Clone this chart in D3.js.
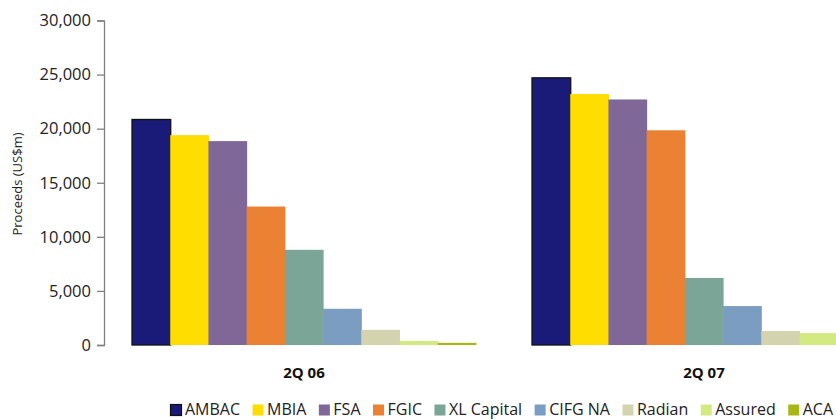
<!DOCTYPE html>
<html>
<head>
<meta charset="utf-8">
<script src="https://cdn.jsdelivr.net/npm/d3@7"></script>
<style>
  body { margin: 0; background: #fff; }
  svg { display: block; font-family: "Open Sans", sans-serif; }
</style>
</head>
<body>
<svg id="chart" width="836" height="420"></svg>
<script>
const quarters = ["2Q 06", "2Q 07"];
const insurers = ["AMBAC", "MBIA", "FSA", "FGIC", "XL Capital", "CIFG NA", "Radian", "Assured", "ACA"];
const colours = ["#1a1a78", "#ffdd00", "#7f6797", "#ea8133", "#7ba596", "#7b9dc1", "#d3d3b0", "#d3e981", "#a9b716"];
const proceeds2Q06 = [20850, 19400, 18850, 12800, 8800, 3350, 1400, 380, 200];
const proceeds2Q07 = [24700, 23200, 22700, 19850, 6200, 3600, 1300, 1100, 900];
const yTicks = [0, 5000, 10000, 15000, 20000, 25000, 30000];

const svg = d3.select("#chart");
const rows = quarters.map((q, i) => ({
    quarter: q,
    values: insurers.map((name, j) => ({ name, value: [proceeds2Q06, proceeds2Q07][i][j] }))
}));

const y = d3.scaleLinear().domain([0, 30000]).range([345, 20.5]);
const x0 = d3.scaleBand().domain(quarters).range([104, 904]).paddingInner(0.14).paddingOuter(0.07);
const x1 = d3.scaleBand().domain(insurers).range([0, x0.bandwidth()]);
const colour = d3.scaleOrdinal().domain(insurers).range(colours);

// y axis
const yAxis = svg.append("g")
    .attr("transform", "translate(104,0)")
    .call(d3.axisLeft(y).tickValues(yTicks).tickSize(7).tickPadding(6).tickFormat(d3.format(",")));
yAxis.select(".domain").attr("stroke", "#808080").attr("stroke-width", 1.3);
yAxis.selectAll(".tick line").attr("stroke", "#808080").attr("stroke-width", 1.3);
yAxis.selectAll(".tick text")
    .attr("fill", "#222")
    .style("font-size", "16.5px")
    .style("font-family", "'Open Sans', sans-serif");

svg.append("text")
    .attr("transform", "translate(22,184) rotate(-90)")
    .attr("text-anchor", "middle")
    .attr("fill", "#222")
    .style("font-size", "13px")
    .text("Proceeds (US$m)");

// bars
const groups = svg.selectAll(".grp")
    .data(rows)
    .join("g")
    .attr("class", "grp")
    .attr("transform", d => `translate(${x0(d.quarter)},0)`);

groups.selectAll("rect")
    .data(d => d.values)
    .join("rect")
    .attr("x", d => x1(d.name))
    .attr("y", d => y(d.value))
    .attr("width", x1.bandwidth() + 0.5)
    .attr("height", d => y(0) - y(d.value))
    .attr("fill", d => colour(d.name))
    .attr("stroke", d => d.name === "AMBAC" ? "#111" : "none")
    .attr("stroke-width", 1.3);

// category labels
svg.selectAll(".cat")
    .data(quarters)
    .join("text")
    .attr("class", "cat")
    .attr("x", d => x0(d) + x0.bandwidth() / 2)
    .attr("y", 378)
    .attr("text-anchor", "middle")
    .attr("fill", "#111")
    .style("font-size", "15px")
    .style("font-weight", "bold")
    .text(d => d);

// legend
const legend = svg.append("g").attr("transform", "translate(170,410)");
let lx = 0;
insurers.forEach(name => {
    const item = legend.append("g").attr("transform", `translate(${lx},0)`);
    item.append("rect")
        .attr("x", 0.5).attr("y", -5.5)
        .attr("width", 11).attr("height", 11)
        .attr("fill", colour(name))
        .attr("stroke", name === "AMBAC" ? "#111" : "none")
        .attr("stroke-width", 1.2);
    const t = item.append("text")
        .attr("x", 15)
        .attr("y", 5)
        .attr("fill", "#222")
        .style("font-size", "16px")
        .text(name);
    lx += 15 + t.node().getComputedTextLength() + 12;
});
</script>
</body>
</html>
